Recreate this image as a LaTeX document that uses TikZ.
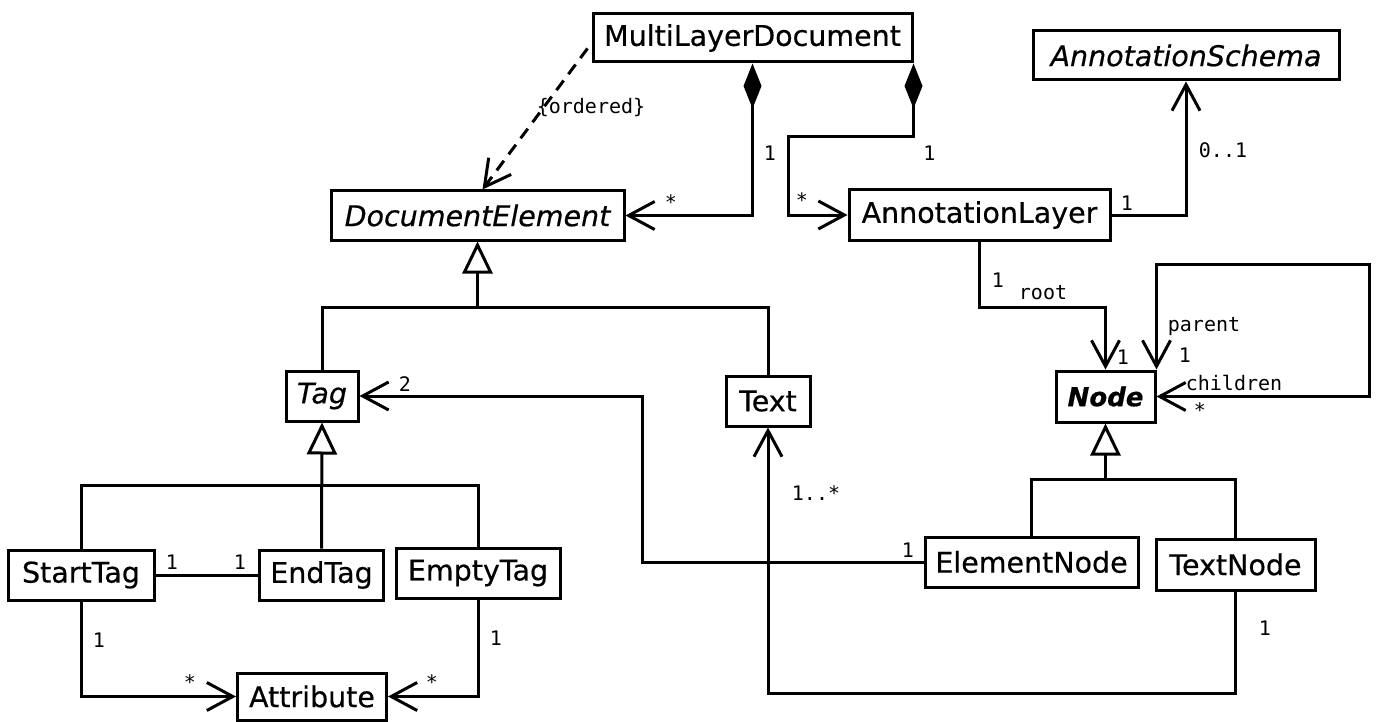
\documentclass[tikz,border=0pt]{standalone}
\usepackage{fontspec}
\setmainfont[FakeBold=0.5]{DejaVu Sans}
\newfontfamily\monof{DejaVu Sans Mono}
\usetikzlibrary{arrows.meta,calc}
\tikzset{
  cls/.style={draw, line width=3pt, inner sep=0pt, font=\fontsize{28.5}{30}\selectfont, anchor=center},
  lbl/.style={inner sep=0pt, font=\monof\fontsize{20}{21}\selectfont},
  conn/.style={line width=3pt},
  barb/.tip={Straight Barb[length=26pt,width=28pt]},
  comp/.tip={Diamond[length=45pt,width=18pt]},
  gen/.tip={Triangle[open,length=32pt,width=30pt,fill=white]},
}
\begin{document}
\begin{tikzpicture}[x=1pt,y=-1pt]
\useasboundingbox (0,0) rectangle (1378,722);
% classes
\node[cls, minimum width=319pt, minimum height=48pt] (mld) at (752.5,38) {MultiLayerDocument};
\node[cls, minimum width=306pt, minimum height=49pt] (schema) at (1186,55.5) {\itshape AnnotationSchema};
\node[cls, minimum width=293pt, minimum height=49pt] (docel) at (477.5,215.5) {\itshape DocumentElement};
\node[cls, minimum width=261pt, minimum height=50pt] (layer) at (979.5,215) {AnnotationLayer};
\node[cls, minimum width=72pt, minimum height=50pt] (tag) at (322,396) {\itshape Tag};
\node[cls, minimum width=84pt, minimum height=50pt] (text) at (768,401) {Text};
\node[cls, minimum width=99pt, minimum height=51pt, font=\fontsize{26}{28}\selectfont\bfseries\itshape] (node) at (1105.5,396.5) {Node};
\node[cls, minimum width=146pt, minimum height=50pt] (start) at (81,575) {StartTag};
\node[cls, minimum width=124pt, minimum height=50pt] (end) at (321.5,575) {EndTag};
\node[cls, minimum width=164pt, minimum height=50pt] (empty) at (478,573) {EmptyTag};
\node[cls, minimum width=213pt, minimum height=50pt] (elem) at (1031.5,562) {ElementNode};
\node[cls, minimum width=159pt, minimum height=51pt] (tnode) at (1235.5,564.5) {TextNode};
\node[cls, minimum width=149pt, minimum height=47pt] (attr) at (312,696.5) {Attribute};

% dependency {ordered}
\draw[conn, dash pattern=on 12pt off 8pt, -barb] ($(mld.south west)+(-4,-15)$) -- ($(docel.north)+(5,0)$);
\node[lbl] (ordl) at (591,108) {\{ordered\}};

% compositions
\draw[conn, comp-barb] (mld.south) |- (docel.east);
\node[lbl] (c1a) at (770,153) {1};
\node[lbl] (c1b) at (671,202) {*};
\draw[conn, comp-barb] (mld.south east) |- (788,137) |- (layer.west);
\node[lbl] (c2a) at (929.5,153) {1};
\node[lbl] (c2b) at (802,200) {*};

% layer -> schema
\draw[conn, -barb] (layer.east) -| (schema.south);
\node[lbl] (s1) at (1127,203) {1};
\node[lbl] (s2) at (1223,150) {0..1};

% layer -> node (root)
\draw[conn, -barb] (layer.south) |- (1105.5,307) -- (node.north);
\node[lbl] (r1) at (998,280) {1};
\node[lbl] (r2) at (1043,293) {root};
\node[lbl] (r3) at (1123,357) {1};

% self association
\draw[conn, barb-barb] (node.east) -- (1369,396.5) -- (1369,264) -| (node.north east);
\node[lbl] (p1) at (1204,327) {parent};
\node[lbl] (p2) at (1185,355) {1};
\node[lbl] (p3) at (1234,383) {children};
\node[lbl] (p4) at (1200,410) {*};

% generalization DocumentElement
\coordinate (j1) at (477.5,307);
\draw[conn] (tag.north) |- (j1) -| (text.north);
\draw[conn, -gen] (j1) -- (docel.south);

% generalization Tag
\coordinate (j2) at (321.5,485);
\draw[conn] (start.north) |- (j2) -| (empty.north);
\draw[conn, -gen] (end.north) -- (tag.south);

% generalization Node
\coordinate (j3) at (1105.5,479);
\draw[conn] (elem.north) |- (j3) -| (tnode.north);
\draw[conn, -gen] (j3) -- (node.south);

% StartTag - EndTag
\draw[conn] (start.east) -- (end.west);
\node[lbl] (e1) at (172,562) {1};
\node[lbl] (e2) at (240,562) {1};

% attributes
\draw[conn, -barb] (start.south) |- (attr.west);
\node[lbl] (a1) at (99,640) {1};
\node[lbl] (a2) at (190,682) {*};
\draw[conn, -barb] (empty.south) |- (attr.east);
\node[lbl] (a3) at (496,638) {1};
\node[lbl] (a4) at (432,682) {*};

% ElementNode -> Tag
\draw[conn, -barb] (elem.west) -| (642,396) -- (tag.east);
\node[lbl] (t1) at (908,550) {1};
\node[lbl] (t2) at (405,384) {2};

% TextNode -> Text
\draw[conn, -barb] (tnode.south) -- ++(0,102) -| (text.south);
\node[lbl] (x1) at (1265,628) {1};
\node[lbl] (x2) at (816,493) {1..*};
\end{tikzpicture}
\end{document}
